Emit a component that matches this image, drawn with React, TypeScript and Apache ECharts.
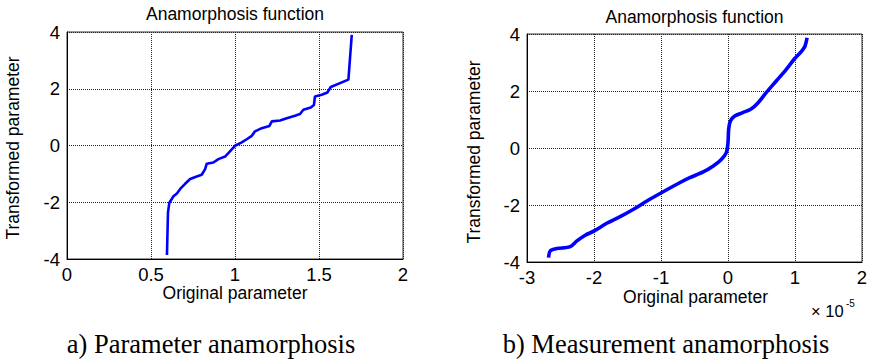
import React, { useEffect, useRef } from "react";
import * as echarts from "echarts";

// Left panel: parameter anamorphosis
const LEFT_X = [0.595, 0.601, 0.609, 0.634, 0.654, 0.678, 0.703, 0.733, 0.772, 0.802, 0.822, 0.832, 0.871, 0.901, 0.941, 0.97, 1.0, 1.04, 1.07, 1.10, 1.119, 1.159, 1.205, 1.219, 1.268, 1.308, 1.357, 1.387, 1.407, 1.451, 1.47, 1.476, 1.516, 1.55, 1.57, 1.675, 1.695];
const LEFT_Y = [-3.86, -2.37, -2.02, -1.79, -1.69, -1.50, -1.35, -1.18, -1.09, -1.03, -0.83, -0.64, -0.60, -0.48, -0.39, -0.21, -0.01, 0.11, 0.22, 0.34, 0.50, 0.61, 0.69, 0.85, 0.88, 0.96, 1.05, 1.11, 1.26, 1.34, 1.43, 1.73, 1.79, 1.87, 2.06, 2.32, 3.90];

// Right panel: measurement anamorphosis (x in units of 1e-5)
const RIGHT_X = [-2.678, -2.653, -2.553, -2.355, -2.255, -2.131, -1.997, -1.81, -1.61, -1.41, -1.21, -0.994, -0.715, -0.57, -0.37, -0.22, -0.10, -0.025, 0.0, 0.01, 0.036, 0.10, 0.22, 0.35, 0.45, 0.57, 0.72, 0.87, 0.996, 1.10, 1.15, 1.18];
const RIGHT_Y = [-3.85, -3.61, -3.53, -3.46, -3.26, -3.06, -2.91, -2.64, -2.41, -2.15, -1.86, -1.57, -1.21, -1.04, -0.84, -0.63, -0.40, -0.16, 0.19, 0.66, 0.95, 1.12, 1.24, 1.38, 1.59, 1.94, 2.35, 2.76, 3.14, 3.40, 3.58, 3.87];

const TITLE = "Anamorphosis function";
const X_NAME = "Original parameter";
const Y_NAME = "Transformed parameter";
const CAPTION_A = "a) Parameter anamorphosis";
const CAPTION_B = "b) Measurement anamorphosis";

const SANS = "'Liberation Sans', Arial, Helvetica, sans-serif";
const SERIF = "'Liberation Serif', 'Times New Roman', serif";

export default function App() {
  const ref = useRef<HTMLDivElement>(null);
  useEffect(() => {
    if (!ref.current) return;
    const chart = echarts.init(ref.current, null, { renderer: "svg" });
    const grids = [
      { left: 67, top: 32, width: 336, height: 227 },
      { left: 527, top: 34, width: 335, height: 228 },
    ];
    const gridLine = { show: true, lineStyle: { color: "#222", type: [1, 1] as any, width: 1 } };
    const axisLabel = { color: "#000", fontFamily: SANS, fontSize: 18.5, margin: 6 };
    const axisLine = { show: true, onZero: false, lineStyle: { color: "#000", width: 1 } };
    const xAxes = [
      { gridIndex: 0, type: "value", min: 0, max: 2, interval: 0.5 },
      { gridIndex: 1, type: "value", min: -3, max: 2, interval: 1 },
    ].map((a) => ({ ...a, axisLine, axisTick: { show: false }, splitLine: gridLine, axisLabel }));
    const yAxes = [
      { gridIndex: 0, type: "value", min: -4, max: 4, interval: 2 },
      { gridIndex: 1, type: "value", min: -4, max: 4, interval: 2 },
    ].map((a) => ({ ...a, axisLine, axisTick: { show: false }, splitLine: gridLine, axisLabel: { ...axisLabel, margin: 7 } }));

    const txt = (x: number, y: number, text: string, fontSize: number, opts: any = {}) => ({
      type: "text",
      x,
      y,
      rotation: opts.rotation || 0,
      style: {
        text,
        fill: "#000",
        font: `${fontSize}px ${opts.font || SANS}`,
        align: opts.align || "center",
        verticalAlign: opts.verticalAlign || "middle",
      },
      z: 10,
    });

    chart.setOption({
      animation: false,
      grid: grids.map((g) => ({ ...g, show: true, borderColor: "#333", borderWidth: 1, backgroundColor: "#fff" })),
      xAxis: xAxes,
      yAxis: yAxes,
      series: [
        {
          type: "line",
          xAxisIndex: 0,
          yAxisIndex: 0,
          data: LEFT_X.map((x, i) => [x, LEFT_Y[i]]),
          showSymbol: false,
          lineStyle: { color: "#0000ff", width: 2.6 },
          z: 5,
        },
        {
          type: "line",
          xAxisIndex: 1,
          yAxisIndex: 1,
          data: RIGHT_X.map((x, i) => [x, RIGHT_Y[i]]),
          showSymbol: false,
          smooth: 0.3,
          lineStyle: { color: "#0000ff", width: 3.6 },
          z: 5,
        },
      ],
      graphic: [
        txt(235, 14, TITLE, 17.5),
        txt(694.5, 17, TITLE, 17.5),
        txt(235, 293, X_NAME, 17.5),
        txt(695.5, 297, X_NAME, 17.5),
        txt(13, 148, Y_NAME, 17.5, { rotation: Math.PI / 2 }),
        txt(473.5, 152, Y_NAME, 17.5, { rotation: Math.PI / 2 }),
        txt(811, 311, "× 10", 16.5, { align: "left" }),
        txt(846, 303, "-5", 10, { align: "left" }),
        txt(211, 344, CAPTION_A, 26.5, { font: SERIF }),
        txt(666, 344, CAPTION_B, 26.5, { font: SERIF }),
      ],
    });
    return () => chart.dispose();
  }, []);
  return (
    <div
      ref={ref}
      style={{ position: "fixed", left: 0, top: 0, width: 872, height: 360, background: "#fff" }}
    />
  );
}
